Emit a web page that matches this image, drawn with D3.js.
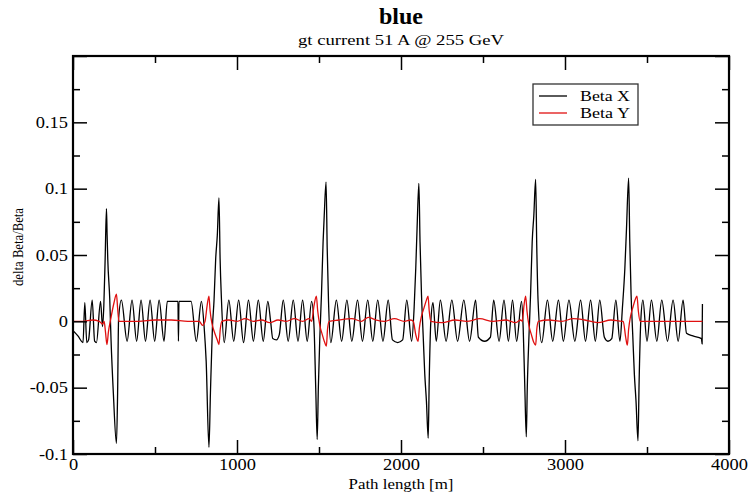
<!DOCTYPE html>
<html lang="en">
<head>
<meta charset="UTF-8">
<title>blue</title>
<script src="https://d3js.org/d3.v7.min.js"></script>
<style>
  body { margin: 0; background: #fff; }
  svg { font-family: "Liberation Serif", "Times New Roman", serif; }
  .tick line { stroke: #000; stroke-width: 1.5; }
  .tick text { fill: #000; }
</style>
</head>
<body>
<svg width="750" height="497"></svg>
<script>
// path length [m], delta beta / beta
const betaX = [
  [0,-0.007],[30,-0.011],[61,-0.016],[72,0.014],[84,-0.016],[95,-0.014],[117,0.016],[132,-0.015],[143,-0.016],
  [168,0.015],[180,-0.004],[188,0.012],
  [196,0.047],[204,0.085],[208,0.065],[212,0.047],[224,0.017],[232,-0.014],[246,-0.054],[265,-0.092],[272,-0.054],
  [278,0.002],[295,0.016],[330,-0.015],[360,0.016],[388,-0.015],[415,0.016],[442,-0.015],[470,0.016],[498,-0.015],
  [525,0.016],[555,-0.015],[575,0.015],[640,0.015],[643,-0.015],[646,0.015],[720,0.015],[752,-0.015],[783,0.015],
  [800,-0.005],[812,-0.03],[829,-0.095],[838,-0.054],[850,-0.005],[860,0.016],[870,0.047],[880,0.065],[890,0.093],
  [897,0.047],[905,0.017],[922,-0.016],[950,0.016],[980,-0.015],[1010,0.016],[1040,-0.016],[1070,0.016],[1100,-0.015],
  [1130,0.016],[1160,-0.015],[1188,0.015],[1205,0.0],[1218,-0.013],[1240,-0.014],[1258,-0.01],[1282,0.016],
  [1312,-0.015],[1343,0.016],[1372,-0.015],[1400,0.016],[1428,-0.015],[1455,0.015],
  [1470,-0.005],[1480,-0.05],[1489,-0.089],[1496,-0.05],[1505,-0.012],[1515,0.02],[1525,0.06],[1532,0.08],[1543,0.105],
  [1550,0.055],[1558,0.015],[1572,-0.016],[1606,0.016],[1638,-0.015],[1670,0.016],[1700,-0.015],[1735,0.016],
  [1765,-0.015],[1797,0.016],[1828,-0.015],[1858,0.016],[1890,-0.015],[1922,0.016],[1948,-0.014],[1980,-0.016],
  [2010,-0.014],[2035,0.016],[2065,-0.015],
  [2080,0.01],[2090,0.04],[2098,0.07],[2109,0.104],[2116,0.06],[2125,0.02],[2135,-0.01],[2145,-0.04],[2155,-0.06],
  [2166,-0.088],[2172,-0.045],[2182,0.0],[2195,0.014],[2215,-0.015],[2240,0.016],[2275,-0.015],[2310,0.016],
  [2345,-0.015],[2383,0.016],[2418,-0.015],[2455,0.016],[2472,-0.012],[2510,-0.015],[2545,-0.012],[2565,0.016],
  [2598,-0.015],[2628,0.016],[2655,-0.015],[2680,0.016],[2705,-0.015],[2735,0.015],
  [2745,-0.005],[2755,-0.05],[2764,-0.087],[2770,-0.05],[2780,-0.012],[2790,0.02],[2800,0.06],[2810,0.08],[2821,0.107],
  [2828,0.055],[2836,0.015],[2858,-0.016],[2893,0.016],[2925,-0.015],[2960,0.016],[2990,-0.015],[3024,0.016],
  [3060,-0.015],[3095,0.016],[3125,-0.015],[3156,0.016],[3185,-0.015],[3212,0.016],[3240,-0.012],[3262,-0.015],
  [3285,-0.013],[3310,0.016],[3335,-0.015],
  [3350,0.01],[3365,0.04],[3375,0.07],[3388,0.108],[3395,0.06],[3403,0.02],[3413,-0.01],[3423,-0.04],[3433,-0.06],
  [3445,-0.09],[3452,-0.045],[3462,0.0],[3475,0.016],[3500,-0.015],[3527,0.016],[3560,-0.015],[3590,0.016],
  [3625,-0.015],[3659,0.016],[3690,-0.015],[3720,0.016],[3741,-0.009],[3780,-0.011],[3832,-0.013],[3836,-0.017],
  [3838,0.013]
];

const betaY = [
  [0,0],[60,0.0],[120,0.001],[160,0.0],[180,-0.002],[190,0.0],[198,-0.008],[207,-0.0175],[216,-0.008],[232,0.003],
  [250,0.014],[265,0.0205],[272,0.01],[280,0.0],[300,0.0],[400,0.0],[500,0.001],[600,0.001],[700,0.0],
  [770,0.0],[790,-0.003],[805,0.0],[818,0.012],[829,0.019],[836,0.008],[848,-0.002],[862,-0.008],[880,-0.014],
  [890,-0.0175],[898,-0.006],[908,0.0],[950,0.001],[1000,0.0],[1050,0.002],[1100,0.0],[1150,0.001],[1200,-0.001],
  [1250,0.001],[1300,0.0],[1350,0.002],[1400,0.0],[1440,0.002],
  [1455,0.0],[1470,0.012],[1484,0.019],[1492,0.008],[1505,-0.003],[1520,-0.01],[1535,-0.016],[1545,-0.0187],
  [1552,-0.006],[1562,0.0],[1620,0.001],[1700,0.002],[1760,0.0],[1800,0.003],[1850,0.001],[1900,0.0],[1960,0.002],
  [2020,0.0],[2060,0.001],
  [2075,0.0],[2090,-0.01],[2104,-0.015],[2112,-0.005],[2125,0.004],[2140,0.01],[2155,0.016],[2165,0.019],[2172,0.008],
  [2182,0.0],[2250,-0.001],[2330,0.001],[2400,0.0],[2480,0.002],[2560,0.0],[2640,0.001],[2700,-0.001],[2730,0.001],
  [2740,0.0],[2750,0.012],[2760,0.019],[2768,0.008],[2780,-0.003],[2795,-0.01],[2810,-0.016],[2821,-0.018],
  [2828,-0.006],[2838,0.0],[2900,0.001],[2980,0.0],[3050,0.002],[3120,0.001],[3200,-0.001],[3280,0.001],[3350,0.0],
  [3355,0.0],[3370,-0.012],[3380,-0.018],[3388,-0.006],[3400,0.004],[3415,0.011],[3430,0.017],[3439,0.019],
  [3447,0.008],[3458,0.0],[3550,0.0],[3700,0.0],[3838,0.0]
];

const xTicks = [0, 1000, 2000, 3000, 4000];
const xMinor = [500, 1500, 2500, 3500];
const yTicks = [-0.1, -0.05, 0, 0.05, 0.1, 0.15, 0.2];
const yLabels = ["-0.1", "-0.05", "0", "0.05", "0.1", "0.15", ""];
const yMinor = [-0.075, -0.025, 0.025, 0.075, 0.125, 0.175];

const seriesNames = ["Beta X", "Beta Y"];
const seriesColors = ["#000000", "#e01010"];

const svg = d3.select("svg"),
      width = +svg.attr("width"),
      height = +svg.attr("height");

const margin = {top: 56, right: 21, bottom: 43, left: 73};
const x = d3.scaleLinear().domain([0, 4000]).range([margin.left, width - margin.right]);
const y = d3.scaleLinear().domain([-0.1, 0.2]).range([height - margin.bottom, margin.top]);

const plotBottom = height - margin.bottom, plotTop = margin.top;
const plotLeft = margin.left, plotRight = width - margin.right;
const midX = (plotLeft + plotRight) / 2;

// titles (the original output is a little stretched sideways, hence textLength)
svg.append("text")
  .attr("x", midX).attr("y", 24)
  .attr("text-anchor", "middle").attr("font-size", 23).attr("font-weight", "bold")
  .attr("textLength", 44).attr("lengthAdjust", "spacingAndGlyphs")
  .text("blue");
svg.append("text")
  .attr("x", midX).attr("y", 45)
  .attr("text-anchor", "middle").attr("font-size", 15)
  .attr("textLength", 206).attr("lengthAdjust", "spacingAndGlyphs")
  .text("gt current 51 A @ 255 GeV");

// data lines
const line = d3.line().curve(d3.curveMonotoneX).x(d => x(d[0])).y(d => y(d[1]));
const plot = svg.append("g");
[betaX, betaY].forEach((data, i) => {
  plot.append("path")
    .datum(data)
    .attr("fill", "none")
    .attr("stroke", seriesColors[i])
    .attr("stroke-width", 1.3)
    .attr("stroke-linejoin", "round")
    .attr("d", line);
});

// axes, ticks pointing inward on all four sides
const fmtY = d => yLabels[yTicks.indexOf(d)];
function drawAxis(axis, tx, ty) {
  const g = svg.append("g").attr("transform", `translate(${tx},${ty})`).call(axis);
  g.select(".domain").remove();
  return g;
}

drawAxis(d3.axisBottom(x).tickValues(xTicks).tickSize(-14).tickPadding(5).tickFormat(d3.format("d")), 0, plotBottom)
  .selectAll("text").attr("font-size", 16);
drawAxis(d3.axisBottom(x).tickValues(xMinor).tickSize(-7).tickFormat(""), 0, plotBottom);
drawAxis(d3.axisTop(x).tickValues(xTicks).tickSize(-14).tickFormat(""), 0, plotTop);
drawAxis(d3.axisTop(x).tickValues(xMinor).tickSize(-7).tickFormat(""), 0, plotTop);

drawAxis(d3.axisLeft(y).tickValues(yTicks).tickSize(-14).tickPadding(5).tickFormat(fmtY), plotLeft, 0)
  .selectAll("text").attr("font-size", 16);
drawAxis(d3.axisLeft(y).tickValues(yMinor).tickSize(-7).tickFormat(""), plotLeft, 0);
drawAxis(d3.axisRight(y).tickValues(yTicks).tickSize(-14).tickFormat(""), plotRight, 0);
drawAxis(d3.axisRight(y).tickValues(yMinor).tickSize(-7).tickFormat(""), plotRight, 0);

// same sideways stretch for the tick labels
svg.selectAll(".tick text")
  .attr("font-family", "Liberation Serif, serif")
  .each(function() {
    const len = this.getComputedTextLength();
    if (len > 0) d3.select(this).attr("textLength", len * 1.15).attr("lengthAdjust", "spacingAndGlyphs");
  });

// frame
svg.append("rect")
  .attr("x", plotLeft).attr("y", plotTop)
  .attr("width", plotRight - plotLeft).attr("height", plotBottom - plotTop)
  .attr("fill", "none").attr("stroke", "#000").attr("stroke-width", 2.2);

// axis labels
svg.append("text")
  .attr("x", midX).attr("y", 489)
  .attr("text-anchor", "middle").attr("font-size", 15)
  .attr("textLength", 105).attr("lengthAdjust", "spacingAndGlyphs")
  .text("Path length [m]");
svg.append("text")
  .attr("transform", `translate(23,${(plotTop + plotBottom) / 2 - 8}) rotate(-90)`)
  .attr("text-anchor", "middle").attr("font-size", 14)
  .attr("textLength", 78).attr("lengthAdjust", "spacingAndGlyphs")
  .text("delta Beta/Beta");

// legend
const legend = svg.append("g").attr("transform", "translate(533,84)");
legend.append("rect")
  .attr("width", 105).attr("height", 41)
  .attr("fill", "#fff").attr("stroke", "#333").attr("stroke-width", 1.3);
seriesNames.forEach((name, i) => {
  const row = legend.append("g").attr("transform", `translate(0,${12 + i * 17})`);
  row.append("line").attr("x1", 6).attr("x2", 34)
    .attr("stroke", seriesColors[i]).attr("stroke-width", 1.3);
  row.append("text").attr("x", 47).attr("dy", "0.35em")
    .attr("font-size", 15)
    .attr("textLength", 50).attr("lengthAdjust", "spacingAndGlyphs")
    .text(name);
});
</script>
</body>
</html>
